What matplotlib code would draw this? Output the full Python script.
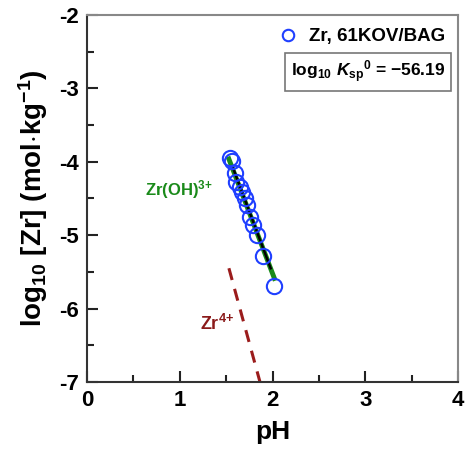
import matplotlib
matplotlib.use("Agg")
import matplotlib.pyplot as plt
from matplotlib.ticker import MultipleLocator

plt.rcParams['font.family'] = ['Liberation Sans', 'DejaVu Sans']
plt.rcParams['font.weight'] = 'bold'
plt.rcParams['mathtext.fontset'] = 'custom'
plt.rcParams['mathtext.rm'] = 'Liberation Sans:bold'
plt.rcParams['mathtext.it'] = 'Liberation Sans:bold:italic'
plt.rcParams['mathtext.bf'] = 'Liberation Sans:bold'

# Data: Zr, 61KOV/BAG
ph_data = [1.54, 1.56, 1.60, 1.61, 1.65, 1.67, 1.70, 1.72, 1.76, 1.79, 1.83, 1.90, 2.02]
logzr_data = [-3.95, -3.99, -4.15, -4.27, -4.34, -4.41, -4.50, -4.59, -4.75, -4.86, -5.00, -5.29, -5.69]

# Model lines
zroh_ph = [1.52, 2.03]
zroh_log = [-3.93, -5.62]
fit_ph = [1.57, 1.98]
fit_log = [-4.07, -5.45]
zr4_ph = [1.53, 1.865]
zr4_log = [-5.45, -7.0]

x_ticks = [0, 1, 2, 3, 4]
y_ticks = [-7, -6, -5, -4, -3, -2]

fig = plt.figure(figsize=(4.67, 4.57), dpi=100)
ax = fig.add_axes([87/467, 1-382/457, (458-87)/467, (382-15)/457])

ax.plot(zroh_ph, zroh_log, color='#1a8a1a', lw=3.5, solid_capstyle='butt', zorder=2)
ax.plot(fit_ph, fit_log, color='black', lw=1.8, zorder=3)
ax.plot(zr4_ph, zr4_log, color='#9b1c1c', lw=2.2, ls=(0, (4, 3)), zorder=2)
ax.plot(ph_data, logzr_data, ls='none', marker='o', ms=11, mfc='none', mec='#1f3fff',
        mew=1.5, zorder=4, label='Zr, 61KOV/BAG')

ax.text(0.625, -4.38, r'Zr(OH)$^{3\!+}$', color='#1a8a1a', fontsize=12, fontweight='bold',
        va='center', ha='left')
ax.text(1.22, -6.21, r'Zr$^{4\!+}$', color='#8b1a1a', fontsize=13, fontweight='bold',
        va='center', ha='left')

ax.set_xlim(0, 4)
ax.set_ylim(-7, -2)
ax.set_xticks(x_ticks)
ax.set_yticks(y_ticks)
ax.set_yticklabels([str(v) for v in y_ticks])
ax.xaxis.set_minor_locator(MultipleLocator(0.5))
ax.yaxis.set_minor_locator(MultipleLocator(0.5))
ax.tick_params(which='both', direction='in', top=False, right=False, width=1.5, color='#222222')
ax.tick_params(which='major', length=8, labelsize=16, pad=6)
ax.tick_params(which='minor', length=5)
for lbl in ax.get_xticklabels() + ax.get_yticklabels():
    lbl.set_fontweight('bold')
for s in ax.spines.values():
    s.set_linewidth(1.5)
    s.set_color('#333333')
ax.spines['top'].set_color('#888888')
ax.spines['right'].set_color('#888888')

ax.set_xlabel('pH', fontsize=19, fontweight='bold', labelpad=6)
ax.set_ylabel(r'log$_{10}$ [Zr] (mol$\cdot$kg$^{-1}$)', fontsize=20, fontweight='bold', labelpad=6)

leg = ax.legend(loc='upper right', frameon=False, fontsize=13.5, handletextpad=0.1,
                borderaxespad=0.3, markerscale=0.75)
for t in leg.get_texts():
    t.set_fontweight('bold')

ax.text(0.965, 0.845, r'log$_{10}$ $K_{\mathrm{sp}}$$^{0}$ = $-$56.19', transform=ax.transAxes,
        fontsize=12.5, fontweight='bold', ha='right', va='center',
        bbox=dict(boxstyle='square,pad=0.35', fc='white', ec='#777777', lw=1.2))

fig.savefig('out.png', dpi=100)
